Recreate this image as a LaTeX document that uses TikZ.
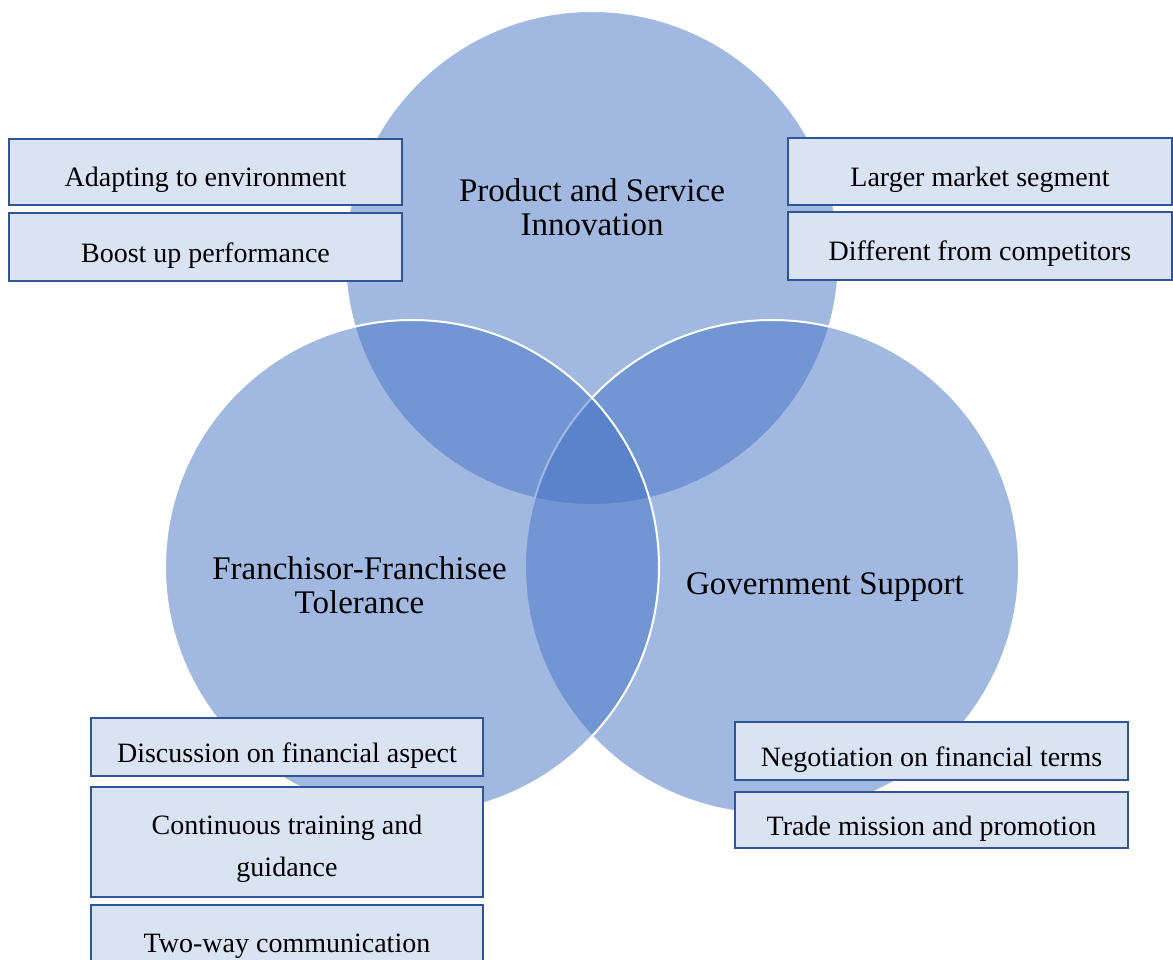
\documentclass[tikz,border=0pt]{standalone}
\usepackage{fontspec}
\setmainfont{Liberation Serif}
\usepackage{xcolor}
\usepackage{tikz}
\usetikzlibrary{positioning}
\definecolor{vennblue}{HTML}{4472C4}
\definecolor{boxfill}{HTML}{DAE3F3}
\definecolor{boxline}{HTML}{2F5597}

\begin{document}
\begin{tikzpicture}[x=1pt, y=-1pt,
    venn/.style={circle, minimum size=494pt, inner sep=0pt, fill=vennblue, fill opacity=0.5, draw=white, line width=2pt},
    title/.style={align=center, font=\fontsize{33}{34}\selectfont},
    infobox/.style={draw=boxline, fill=boxfill, line width=2.2pt, inner sep=0pt, align=center, font=\fontsize{28}{42}\selectfont},
    oneline/.style={text height=36pt, text depth=6pt}]
    \useasboundingbox (0,0) rectangle (1173,960);
    \clip (0,0) rectangle (1173,960);

    % Circles
    \node[venn] (product) at (592,258) {};
    \node[venn] (government) at (772,567) {};
    \node[venn] (franchise) at (412,567) {};

    \node[title] (productlbl) at (592,207) {Product and Service\\Innovation};
    \node[title] (franchiselbl) at (359.5,585) {Franchisor-Franchisee\\Tolerance};
    \node[title] (governmentlbl) at (825,587) {Government Support};

    % Product and Service Innovation
    \node[infobox, oneline, minimum width=393pt, minimum height=66pt] (adapt) at (205.5,172) {Adapting to environment};
    \node[infobox, oneline, minimum width=393pt, minimum height=68pt] (boost) at (205.5,247) {Boost up performance};
    \node[infobox, oneline, minimum width=384pt, minimum height=67pt] (market) at (980,171.5) {Larger market segment};
    \node[infobox, oneline, minimum width=384pt, minimum height=68pt] (differ) at (980,246) {Different from competitors};

    % Franchisor-Franchisee Tolerance
    \node[infobox, oneline, minimum width=392pt, minimum height=58pt] (discuss) at (287,747) {Discussion on financial aspect};
    \node[infobox, minimum width=392pt, minimum height=110pt] (training) at (287,842) {\rule{0pt}{33pt}Continuous training and\\guidance};
    \node[infobox, oneline, minimum width=392pt, minimum height=64pt] (twoway) at (287,937) {Two-way communication};

    % Government Support
    \node[infobox, oneline, minimum width=393pt, minimum height=58pt] (negotiate) at (931.5,751) {Negotiation on financial terms};
    \node[infobox, oneline, minimum width=393pt, minimum height=56pt] (trade) at (931.5,820) {Trade mission and promotion};
\end{tikzpicture}
\end{document}
